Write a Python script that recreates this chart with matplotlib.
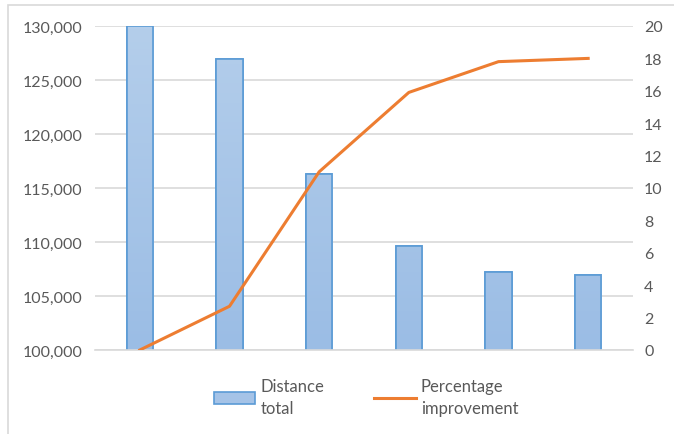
import numpy as np
import matplotlib.pyplot as plt
from matplotlib.patches import Rectangle
from matplotlib.colors import LinearSegmentedColormap

categories = ["1", "2", "3", "4", "5", "6"]
distance_total = [130000, 126950, 116300, 109650, 107200, 106950]
pct_improvement = [0.0, 2.7, 11.0, 15.9, 17.8, 18.0]

plt.rcParams['font.family'] = ['Lato', 'DejaVu Sans']
grey = "#595959"
grid = "#D9D9D9"

fig = plt.figure(figsize=(6.74, 4.35), dpi=100)
W, H = 674, 435
ax = fig.add_axes([95 / W, 1 - 351 / H, (633 - 95) / W, (351 - 27) / H])

# chart border
fig.patches.append(Rectangle((8 / W, -0.1), 1.2, 1 - 6 / H + 0.1, transform=fig.transFigure,
                             fill=False, edgecolor=grid, linewidth=1.2))

x = np.arange(len(categories))
bars = ax.bar(x, distance_total, width=0.29, color="#A5C3E7", edgecolor="#5B9BD5",
              linewidth=1.2, label="Distance\ntotal", zorder=2)
ax.set_ylim(100000, 130000)
ax.set_xlim(-0.5, len(categories) - 0.5)

# gradient fill like the original
cmap = LinearSegmentedColormap.from_list("barfill", ["#9BBDE5", "#B4CEEB"])
for b in bars:
    bx, by = b.get_x(), b.get_y()
    bw, bh = b.get_width(), b.get_height()
    im = ax.imshow(np.linspace(0, 1, 100).reshape(-1, 1), cmap=cmap, origin="lower",
                   extent=[bx, bx + bw, 100000, 130000], aspect="auto", zorder=2.1)
    im.set_clip_path(b)
    edge = Rectangle((bx, by), bw, bh, fill=False, edgecolor="#5B9BD5", linewidth=1.2,
                     zorder=2.2)
    ax.add_patch(edge)

ax.set_yticks(range(100000, 130001, 5000))
ax.set_yticklabels([f"{v:,}" for v in range(100000, 130001, 5000)])
ax.yaxis.grid(True, color=grid, linewidth=1.2, zorder=0)
ax.set_axisbelow(True)
ax.set_xticks([])
for s in ["left", "right", "top"]:
    ax.spines[s].set_visible(False)
ax.spines["bottom"].set_color(grid)
ax.spines["bottom"].set_linewidth(1.2)
ax.tick_params(axis="y", length=0, colors=grey, labelsize=11.5, pad=9)

ax2 = ax.twinx()
line, = ax2.plot(x, pct_improvement, color="#ED7D31", linewidth=2.2,
                 label="Percentage\nimprovement", zorder=3)
ax2.set_ylim(0, 20)
ax2.set_yticks(range(0, 21, 2))
for s in ax2.spines.values():
    s.set_visible(False)
ax2.tick_params(axis="y", length=0, colors=grey, labelsize=11.5, pad=8)

leg = fig.legend([bars, line], ["Distance\ntotal", "Percentage\nimprovement"],
                 loc="center", bbox_to_anchor=(366 / W, 1 - 398 / H), ncol=2, frameon=False,
                 fontsize=12, labelcolor=grey, handlelength=2.5, handletextpad=0.3,
                 columnspacing=3.0)
for t in leg.get_texts():
    t.set_linespacing(1.5)
for h in leg.legend_handles:
    if isinstance(h, Rectangle):
        h.set_facecolor("#A5C3E7")

fig.savefig("out.png", dpi=100)
